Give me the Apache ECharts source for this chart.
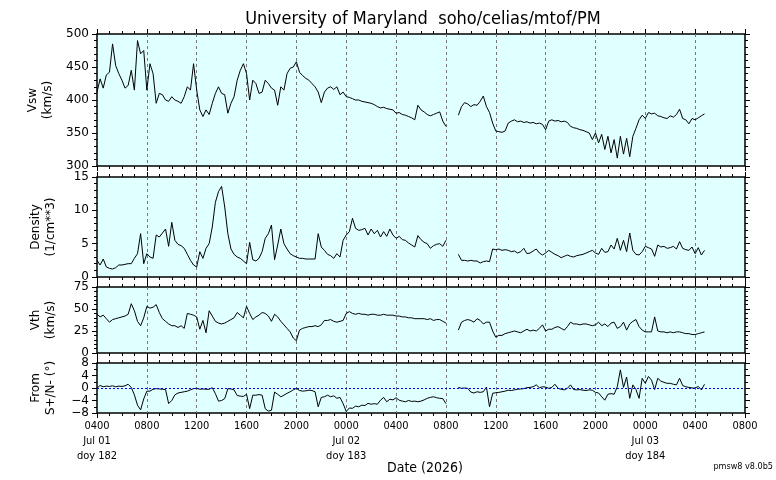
<!DOCTYPE html>
<html>
<head>
<meta charset="utf-8">
<script src="https://cdn.jsdelivr.net/npm/echarts@6/dist/echarts.min.js"></script>
<style>
  html, body { margin: 0; padding: 0; background: #fff; }
  #chart { width: 776px; height: 480px; }
</style>
</head>
<body>
<div id="chart"></div>
<script>
// samples every 15 min starting Jul 01 0400 (hours since start), one row per hour
const STEP = 0.25;

const vsw = [
  412, 432, 418, 438,
  442, 485, 452, 440,
  430, 418, 422, 445,
  415, 490, 470, 475,
  415, 455, 440, 395,
  410, 408, 400, 398,
  405, 400, 398, 395,
  405, 420, 415, 455,
  415, 385, 375, 385,
  378, 395, 410, 420,
  410, 408, 380, 395,
  405, 430, 445, 455,
  440, 400, 430, 425,
  410, 412, 430, 425,
  418, 415, 392, 420,
  415, 440, 448, 450,
  458, 442, 437, 433,
  430, 425, 420, 412,
  396, 412, 418, 420,
  416, 420, 408, 412,
  405, 404, 402, 400,
  400, 398, 397, 396,
  395, 393, 390, 388,
  389, 387, 386, 385,
  380, 381, 378, 377,
  375, 373, 370, 392,
  385, 382, 378, 376,
  378, 380, 382, 368,
  360, null, null, null,
  377, 390, 396, 394,
  390, 393, 392, 398,
  406, 390, 381, 365,
  353, 352, 351, 353,
  365, 368, 370, 367,
  368, 366, 367, 365,
  366, 364, 365, 363,
  355, 368, 370, 368,
  369, 367, 368, 366,
  360, 358, 357, 355,
  354, 352, 350, 340,
  350, 335, 348, 325,
  345, 320, 340, 312,
  345, 318, 342, 314,
  345, 357, 370, 377,
  372, 381, 379, 380,
  376, 375, 373, 372,
  376, 374, 378, 386,
  372, 370, 364, 372,
  370, 373, 376, 379
];

const density = [
  2.5, 1.8, 2.7, 1.5,
  1.3, 1.2, 1.4, 1.8,
  1.8, 1.9, 2.0, 2.0,
  2.8, 3.5, 6.5, 2.0,
  3.5, 3.0, 2.8, 6.3,
  6.0, 6.6, 7.2, 4.6,
  8.2, 5.5, 4.9, 4.7,
  4.3, 3.4, 2.5, 1.8,
  1.5, 3.8, 2.8, 4.3,
  5.0, 7.5, 11.2, 12.8,
  13.6, 10.5, 6.5, 4.2,
  3.4, 3.0, 2.8, 2.4,
  2.0, 5.2, 2.6, 2.4,
  2.8, 3.8, 5.8, 6.5,
  7.8, 2.6, 4.8, 7.2,
  5.0, 4.2, 3.5, 3.2,
  3.0, 2.8, 2.8, 2.7,
  2.7, 2.7, 2.7, 6.5,
  4.5, 4.0, 3.4, 3.2,
  2.8, 3.5, 3.0, 5.5,
  6.3, 6.8, 8.8, 7.3,
  7.0, 7.1, 7.3, 6.3,
  7.2, 6.5, 7.0, 6.0,
  6.8, 6.1, 7.2, 6.3,
  5.8, 6.1, 5.6, 5.5,
  5.1, 4.8, 4.5, 6.2,
  5.6, 5.2, 5.0, 4.3,
  4.7, 4.9, 5.0, 4.6,
  5.5, null, null, null,
  3.4, 2.5, 2.5, 2.4,
  2.5, 2.4, 2.4, 2.1,
  2.3, 2.4, 2.3, 4.2,
  4.1, 4.2, 4.0, 4.1,
  4.0, 3.8, 3.9, 3.6,
  3.8, 4.3, 3.5, 3.6,
  3.9, 4.2, 3.6, 3.3,
  3.6, 4.0, 3.7, 3.4,
  3.2, 2.9, 3.1, 3.3,
  3.1, 3.0, 3.2, 3.3,
  3.4, 3.6, 3.8, 4.0,
  3.6, 3.4, 4.3, 3.7,
  3.8, 4.8, 4.2, 5.8,
  4.0, 5.5, 3.8, 6.6,
  4.0, 3.4, 3.3, 3.8,
  4.6, 4.4, 4.2, 3.1,
  4.8, 4.5, 4.6, 4.3,
  4.4, 4.6, 4.2, 5.3,
  4.3, 4.1, 4.0, 4.5,
  3.5, 4.4, 3.3, 4.0
];

const vth = [
  44, 41, 43, 39,
  35, 38, 39, 40,
  41, 42, 44, 56,
  48, 36, 31, 40,
  53, 51, 52, 55,
  46, 39, 36, 33,
  31, 31, 29, 31,
  28, 45, 44, 43,
  41, 27, 37, 23,
  48, 42, 36, 34,
  33, 34, 36, 38,
  40, 46, 43, 40,
  53, 45, 38, 41,
  43, 46, 45, 42,
  36, 44, 41, 36,
  32, 28, 24, 17,
  14, 26, 28, 29,
  30, 30, 31, 30,
  32, 37, 37, 38,
  36, 35, 36, 37,
  45, 47, 45, 44,
  45, 44, 44, 43,
  44, 44, 43, 43,
  44, 43, 43, 43,
  42, 42, 41, 41,
  40, 40, 39, 39,
  39, 39, 38, 39,
  37, 38, 38, 36,
  34, null, null, null,
  26, 35, 37, 38,
  37, 35, 39, 37,
  33, 35, 35, 25,
  18, 20, 20, 22,
  23, 24, 25, 24,
  23, 25, 27, 25,
  26, 25, 28, 32,
  25, 27, 27, 29,
  30, 28, 26, 30,
  35, 33, 33, 32,
  33, 33, 32, 31,
  32, 35, 31, 33,
  30, 34, 35, 28,
  30, 35, 26, 33,
  36, 38, 30, 26,
  24, 24, 24, 41,
  25, 24, 24, 23,
  24, 23, 24, 24,
  23, 22, 22, 21,
  21, 22, 23, 24
];

const fromAngle = [
  0.0, 0.8, 0.4, 0.6,
  0.5, 0.7, 0.4, 0.6,
  0.5, 0.7, 1.2, 0.2,
  -2.2, -5.5, -7.0, -3.5,
  -1.0, -1.0, -0.4, -0.2,
  -0.3, -0.4, -0.5, -5.0,
  -4.0, -2.2, -1.6, -1.4,
  -1.2, -1.0, -0.6, -0.2,
  -0.1, -0.4, -0.3, -0.4,
  -0.4, 0.1, -1.8, -4.2,
  -4.0, -3.4, -0.2, -0.3,
  -0.6, -2.4, -2.6, -2.7,
  -2.0, -6.6, -2.3, -2.3,
  -2.1, -2.3, -6.6, -7.4,
  -7.1, -1.3, -2.0, -2.8,
  -2.3, -1.7, -1.2, -0.6,
  -0.1, -0.8, -1.0, -0.9,
  -0.7, -0.8, -1.2, -6.0,
  -3.0, -2.8, -2.3, -2.8,
  -2.5, -3.3, -3.0, -5.0,
  -7.5, -6.4, -6.5, -5.8,
  -6.0, -5.5, -5.6, -4.9,
  -5.2, -5.0, -5.2, -3.9,
  -3.0, -4.4, -3.6, -3.8,
  -3.1, -3.9, -4.2, -4.4,
  -4.0, -4.3, -4.2, -4.4,
  -4.2, -3.8, -3.3, -3.0,
  -2.8, -3.1, -3.3, -3.4,
  -5.0, null, null, null,
  0.2, -0.1, 0.0, -0.1,
  -1.3, -1.6, -1.2, -1.4,
  -1.2, 0.3, -6.0, -1.7,
  -1.5, -1.4, -1.2, -1.0,
  -0.7, -0.8, -0.6, -0.4,
  -0.3, -0.2, 0.1, 0.2,
  0.4, 1.0, 0.1, 0.4,
  0.3, -0.1, 0.2, 1.2,
  -0.1, -0.4, -0.6, -0.1,
  1.0, -0.5, -0.6, -0.5,
  -0.7, -0.8, -0.6, -0.7,
  -1.4, -1.6, -2.8, -3.9,
  -2.0, -1.8, -2.0, 0.4,
  5.8, 0.2, 3.5, -3.3,
  1.0, -0.5, -3.3, 3.1,
  1.5, 3.7, 2.5, -0.5,
  3.1, 2.2, 1.8, 1.5,
  1.5, 1.2, 1.0, 3.1,
  0.8, 0.4, 0.2, 0.0,
  0.0, 0.5, -0.6, 1.2
];

// x ticks every 4 hours from Jul 01 0400 to Jul 03 0800
const xTickLabels = [
  "0400\nJul 01\ndoy 182", "0800", "1200", "1600", "2000",
  "0000\nJul 02\ndoy 183", "0400", "0800", "1200", "1600", "2000",
  "0000\nJul 03\ndoy 184", "0400", "0800"
];

const panels = [
  { name: "Vsw\n(km/s)", data: vsw, top: 34, height: 132, min: 300, max: 500, interval: 50, minorSplit: 5 },
  { name: "Density\n(1/cm**3)", data: density, top: 177, height: 100, min: 0, max: 15, interval: 5, minorSplit: 5 },
  { name: "Vth\n(km/s)", data: vth, top: 287, height: 66, min: 0, max: 75, interval: 25, minorSplit: 5 },
  { name: "From\nS+/N- (\u00b0)", data: fromAngle, top: 363, height: 50, min: -8, max: 8, interval: 4, minorSplit: 2 }
];

const condensed = "'DejaVu Sans Condensed', 'Liberation Sans Narrow', 'DejaVu Sans', sans-serif";
const tickStyle = { color: "#000", width: 1 };

const grids = [], xAxes = [], yAxes = [], series = [];

panels.forEach((p, i) => {
  const last = i === panels.length - 1;
  grids.push({
    left: 97, width: 648, top: p.top, height: p.height,
    show: true, backgroundColor: "#e0ffff", borderColor: "#000", borderWidth: 1.5
  });

  ["bottom", "top"].forEach((pos) => {
    xAxes.push({
      type: "value", gridIndex: i, position: pos,
      min: 0, max: 52, interval: 4,
      axisLine: { show: false, onZero: false },
      axisTick: { show: true, length: 5, lineStyle: tickStyle },
      minorTick: { show: true, splitNumber: 4, length: 3, lineStyle: tickStyle },
      axisLabel: {
        show: last && pos === "bottom",
        margin: 6,
        color: "#000",
        fontSize: 11,
        lineHeight: 15,
        fontFamily: condensed,
        formatter: (v) => xTickLabels[Math.round(v / 4)]
      },
      splitLine: {
        show: pos === "bottom", showMinLine: false, showMaxLine: false,
        lineStyle: { color: "#777", type: [3, 3], width: 1 }
      }
    });
  });

  ["left", "right"].forEach((pos) => {
    yAxes.push({
      type: "value", gridIndex: i, position: pos,
      min: p.min, max: p.max, interval: p.interval,
      axisLine: { show: false, onZero: false },
      axisTick: { show: true, length: 5, lineStyle: tickStyle },
      minorTick: { show: true, splitNumber: p.minorSplit, length: 3, lineStyle: tickStyle },
      splitLine: { show: false },
      axisLabel: {
        show: pos === "left",
        margin: 8,
        color: "#000",
        fontSize: 12,
        fontFamily: "'DejaVu Sans', sans-serif",
        formatter: (v) => String(v).replace("-", "\u2212")
      },
      name: pos === "left" ? p.name : "",
      nameLocation: "middle",
      nameRotate: 90,
      nameGap: 39,
      nameTextStyle: { color: "#000", fontSize: 12, lineHeight: 15, fontFamily: "'DejaVu Sans', sans-serif" }
    });
  });

  const s = {
    type: "line",
    xAxisIndex: i * 2,
    yAxisIndex: i * 2,
    data: p.data.map((v, k) => [k * STEP, v]),
    showSymbol: false,
    symbol: "none",
    connectNulls: false,
    lineStyle: { color: "#000", width: 1 },
    silent: true
  };
  if (last) {
    s.markLine = {
      silent: true,
      symbol: ["none", "none"],
      label: { show: false },
      lineStyle: { color: "#0000ff", type: [2, 2], width: 1 },
      data: [{ yAxis: 0 }]
    };
  }
  series.push(s);
});

const chart = echarts.init(document.getElementById("chart"), null, { renderer: "canvas" });

chart.setOption({
  animation: false,
  backgroundColor: "#fff",
  grid: grids,
  xAxis: xAxes,
  yAxis: yAxes,
  series: series,
  graphic: [
    {
      type: "text", x: 423, y: 19,
      style: {
        text: "University of Maryland  soho/celias/mtof/PM",
        font: "18px " + condensed, fill: "#000",
        textAlign: "center", textVerticalAlign: "middle"
      }
    },
    {
      type: "text", x: 425, y: 468,
      style: {
        text: "Date (2026)",
        font: "14px " + condensed, fill: "#000",
        textAlign: "center", textVerticalAlign: "middle"
      }
    },
    {
      type: "text", x: 773, y: 467,
      style: {
        text: "pmsw8 v8.0b5",
        font: "9px " + condensed, fill: "#000",
        textAlign: "right", textVerticalAlign: "middle"
      }
    }
  ]
});
</script>
</body>
</html>
